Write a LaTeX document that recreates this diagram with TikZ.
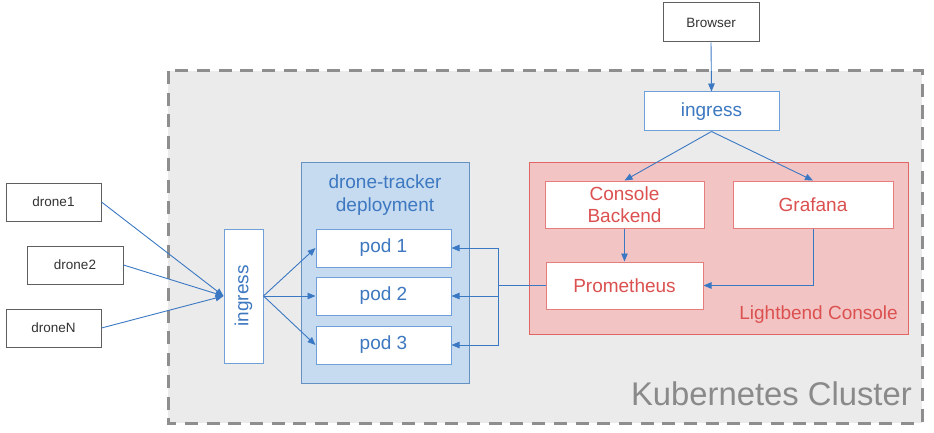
\documentclass[tikz,border=0pt]{standalone}
\usepackage{fontspec}
\setmainfont{Liberation Sans}
\usetikzlibrary{arrows.meta,calc}
\definecolor{kgray}{HTML}{EBEBEB}
\definecolor{kdash}{HTML}{8E8E8E}
\definecolor{ktext}{HTML}{8A8A8A}
\definecolor{bline}{HTML}{3B78C3}
\definecolor{bbord}{HTML}{6FA0D8}
\definecolor{btext}{HTML}{3D78C0}
\definecolor{bfill}{HTML}{C6DBF0}
\definecolor{rbord}{HTML}{E06666}
\definecolor{rfill}{HTML}{F2C4C4}
\definecolor{rtext}{HTML}{DC5050}
\definecolor{gbord}{HTML}{5F5F5F}
\tikzset{
  x=1pt,y=-1pt,
  box/.style={draw,fill=white,inner sep=0pt,line width=1pt},
  smallbox/.style={box,draw=gbord,text=black!80,font=\fontsize{13.5}{16}\selectfont},
  bluebox/.style={box,draw=bbord,text=btext,font=\fontsize{19}{22}\selectfont},
  redbox/.style={box,draw=rbord!85,text=rtext,font=\fontsize{19}{22}\selectfont,align=center},
  arr/.style={draw=bline,line width=0.9pt,-{Triangle[length=8pt,width=6.5pt]}},
  ln/.style={draw=bline,line width=0.9pt},
}
\begin{document}
\begin{tikzpicture}
\useasboundingbox (0,0) rectangle (934,433);
% cluster
\draw[fill=kgray,draw=kdash,line width=3pt,dash pattern=on 13pt off 8.7pt] (168,71) rectangle (922,423);
\node[anchor=base east,text=ktext,font=\fontsize{32.8}{36}\selectfont,inner sep=0pt] (kc) at (912,405) {Kubernetes Cluster};
% lightbend console
\draw[fill=rfill,draw=rbord,line width=1pt] (529,162) rectangle (908,334);
\node[anchor=base east,text=rtext,font=\fontsize{19}{22}\selectfont,inner sep=0pt] (lc) at (898,319) {Lightbend Console};
% deployment
\draw[fill=bfill,draw=bbord!90!black,line width=1pt] (301,162) rectangle (469,383);
\node[text=btext,font=\fontsize{19}{22.5}\selectfont,align=center,inner sep=0pt] (dt) at (385,195) {drone-tracker\\deployment};
% nodes
\node[smallbox,minimum width=96pt,minimum height=39pt] (br) at (711,22.5) {Browser};
\node[bluebox,minimum width=135pt,minimum height=39pt] (ing1) at (711.5,111.5) {ingress};
\node[redbox,minimum width=159pt,minimum height=47pt] (cb) at (624.5,204.5) {Console\\Backend};
\node[redbox,minimum width=160pt,minimum height=47pt] (gr) at (813,204.5) {Grafana};
\node[redbox,minimum width=157pt,minimum height=47pt] (pr) at (624.5,285.5) {Prometheus};
\node[bluebox,minimum width=135pt,minimum height=38pt] (p1) at (383.5,248) {pod 1};
\node[bluebox,minimum width=135pt,minimum height=38pt] (p2) at (383.5,296) {pod 2};
\node[bluebox,minimum width=135pt,minimum height=38pt] (p3) at (383.5,345) {pod 3};
\node[bluebox,minimum width=39pt,minimum height=134pt] (ing2) at (243.5,296) {};
\node[text=btext,font=\fontsize{19}{22}\selectfont,rotate=90,inner sep=0pt] (ing2t) at (ing2.center) {ingress};
\node[smallbox,minimum width=95pt,minimum height=38pt] (d1) at (53.5,202) {drone1};
\node[smallbox,minimum width=96pt,minimum height=38pt] (d2) at (75,265) {drone2};
\node[smallbox,minimum width=95pt,minimum height=38pt] (dn) at (53.5,328) {droneN};
\coordinate (bus) at (498,0);
% connectors
\draw[arr] (br.south) -- (ing1.north);
\draw[arr] (ing1.south) -- (cb.north);
\draw[arr] (ing1.south) -- (gr.north);
\draw[arr] (cb.south) -- (pr.north);
\draw[arr] (gr.south) |- (pr.east);
\draw[ln] (pr.west) -- (pr.west -| bus);
\draw[arr] (pr.west -| bus) |- (p1.east);
\draw[arr] (pr.west -| bus) |- (p2.east);
\draw[arr] (pr.west -| bus) |- (p3.east);
\draw[arr] (d1.east) -- (ing2.west);
\draw[arr] (d2.east) -- (ing2.west);
\draw[arr] (dn.east) -- (ing2.west);
\draw[arr] (ing2.east) -- (p1.west);
\draw[arr] (ing2.east) -- (p2.west);
\draw[arr] (ing2.east) -- (p3.west);
\end{tikzpicture}
\end{document}
